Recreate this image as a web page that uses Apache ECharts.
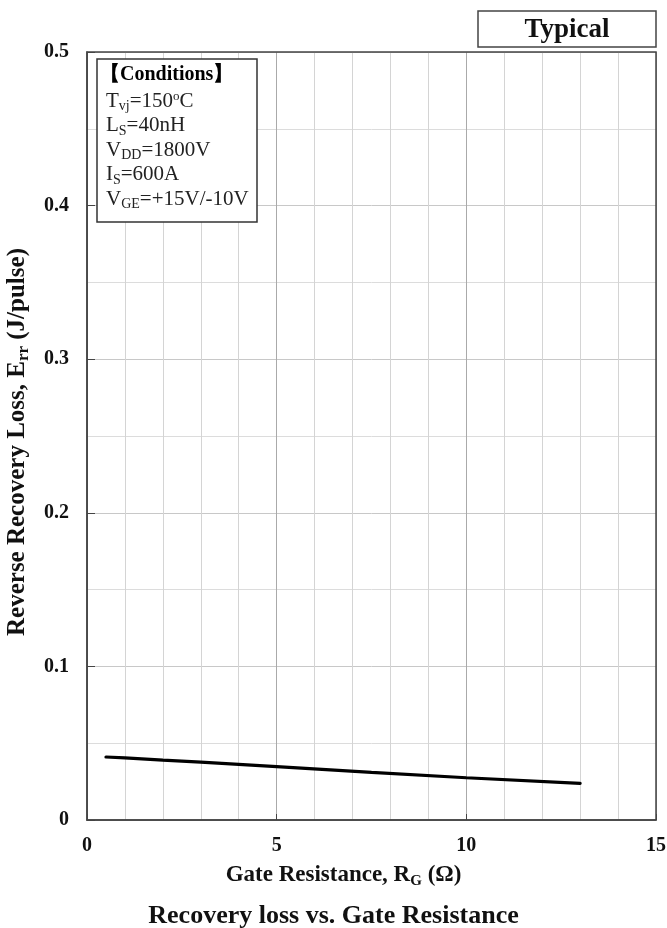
<!DOCTYPE html>
<html>
<head>
<meta charset="utf-8">
<script src="https://cdn.jsdelivr.net/npm/echarts@6/dist/echarts.min.js"></script>
<style>
  html, body { margin: 0; padding: 0; background: #fff; }
  #chart { width: 667px; height: 928px; }
</style>
</head>
<body>
<div id="chart"></div>
<script>
// Gate resistance (ohm) and reverse recovery loss (J/pulse)
const gateResistance = [0.5, 1, 2, 3, 5, 7.5, 10, 13];
const recoveryLoss   = [0.041, 0.0405, 0.039, 0.0377, 0.0347, 0.031, 0.0275, 0.0239];

const xTicks = [0, 5, 10, 15];
const yTicks = [0, 0.1, 0.2, 0.3, 0.4, 0.5];

const chartTitle = 'Recovery loss vs. Gate Resistance';
const badgeText = 'Typical';
const conditionHeading = '【Conditions】';
const conditionLines = [
  '{n|T}{s|vj}{n|=150}{u|o}{n|C}',
  '{n|L}{s|S}{n|=40nH}',
  '{n|V}{s|DD}{n|=1800V}',
  '{n|I}{s|S}{n|=600A}',
  '{n|V}{s|GE}{n|=+15V/-10V}'
];

const SERIF = '"Liberation Serif", "Times New Roman", serif';

const points = gateResistance.map((x, i) => [x, recoveryLoss[i]]);

const chart = echarts.init(document.getElementById('chart'), null, { renderer: 'canvas' });

const LH = 24.5;
const richCond = {
  n: { fontFamily: SERIF, fontSize: 21, color: '#222', lineHeight: LH },
  s: { fontFamily: SERIF, fontSize: 14, color: '#222', lineHeight: LH, verticalAlign: 'bottom' },
  u: { fontFamily: SERIF, fontSize: 13, color: '#222', lineHeight: LH, verticalAlign: 'top', padding: [1, 0, 0, 0] }
};

const nameRich = size => ({
  r: { fontFamily: SERIF, fontSize: size, fontWeight: 'bold', color: '#111', lineHeight: size + 4 },
  s: { fontFamily: SERIF, fontSize: Math.round(size * 0.66), fontWeight: 'bold', color: '#111', lineHeight: size + 4, verticalAlign: 'bottom' }
});

chart.setOption({
  animation: false,
  backgroundColor: '#fff',
  grid: { left: 87, right: 11, top: 52, bottom: 108, containLabel: false, outerBoundsMode: 'none' },
  title: {
    text: chartTitle,
    left: 'center',
    top: 898,
    textStyle: { fontFamily: SERIF, fontSize: 26, fontWeight: 'bold', color: '#111' }
  },
  xAxis: {
    type: 'value',
    min: 0, max: 15, interval: 5,
    name: '{r|Gate Resistance, R}{s|G}{r| (Ω)}',
    nameLocation: 'middle',
    nameGap: 42,
    nameTextStyle: {
      fontFamily: SERIF, fontSize: 23, fontWeight: 'bold', color: '#111',
      padding: [0, 56, 0, 0],
      rich: nameRich(23)
    },
    axisLine: { onZero: false, lineStyle: { color: '#444', width: 1.5 } },
    axisTick: { show: true, inside: true, length: 6, lineStyle: { color: '#444' } },
    minorTick: { show: false, splitNumber: 5 },
    axisLabel: {
      margin: 16,
      fontFamily: SERIF, fontSize: 20, fontWeight: 'bold', color: '#111',
      formatter: v => (xTicks.includes(v) ? String(v) : '')
    },
    splitLine: { show: true, lineStyle: { color: '#aaa', width: 1 } },
    minorSplitLine: { show: true, lineStyle: { color: '#d4d4d4', width: 1 } }
  },
  yAxis: {
    type: 'value',
    min: 0, max: 0.5, interval: 0.1,
    name: '{r|Reverse Recovery Loss, E}{s|rr}{r| (J/pulse)}',
    nameLocation: 'middle',
    nameGap: 55,
    nameTextStyle: {
      fontFamily: SERIF, fontSize: 25, fontWeight: 'bold', color: '#111',
      padding: [0, 12, 0, 0],
      rich: nameRich(25)
    },
    axisLine: { show: true, onZero: false, lineStyle: { color: '#444', width: 1.5 } },
    axisTick: { show: true, inside: true, length: 8, lineStyle: { color: '#444' } },
    minorTick: { show: false, splitNumber: 2 },
    axisLabel: {
      margin: 18,
      fontFamily: SERIF, fontSize: 20, fontWeight: 'bold', color: '#111',
      formatter: v => (yTicks.some(t => Math.abs(t - v) < 1e-9) ? (v === 0 ? '0' : v.toFixed(1)) : '')
    },
    splitLine: { show: true, lineStyle: { color: '#c8c8c8', width: 1 } },
    minorSplitLine: { show: true, lineStyle: { color: '#dcdcdc', width: 1 } }
  },
  series: [{
    type: 'line',
    data: points,
    showSymbol: false,
    smooth: false,
    lineStyle: { color: '#000', width: 3.2, cap: 'round' },
    z: 5
  }],
  graphic: [
    // plot frame
    {
      type: 'rect', z: 10, silent: true,
      shape: { x: 87, y: 52, width: 569, height: 768 },
      style: { fill: 'none', stroke: '#444', lineWidth: 1.5 }
    },
    // "Typical" badge
    {
      type: 'rect', z: 10,
      shape: { x: 478, y: 11, width: 178, height: 36 },
      style: { fill: '#fff', stroke: '#444', lineWidth: 1.5 }
    },
    {
      type: 'text', z: 11,
      x: 567, y: 30,
      style: {
        text: badgeText, align: 'center', verticalAlign: 'middle',
        fontFamily: SERIF, fontSize: 27, fontWeight: 'bold', fill: '#111'
      }
    },
    // conditions box
    {
      type: 'rect', z: 10,
      shape: { x: 97, y: 59, width: 160, height: 163 },
      style: { fill: '#fff', stroke: '#333', lineWidth: 1.5 }
    },
    {
      type: 'text', z: 11,
      x: 100, y: 75,
      style: {
        text: conditionHeading,
        align: 'left', verticalAlign: 'middle',
        fontFamily: SERIF, fontSize: 20, fontWeight: 'bold', fill: '#000'
      }
    },
    {
      type: 'text', z: 11,
      x: 106, y: 89,
      style: {
        text: conditionLines.join('\n'),
        rich: richCond,
        align: 'left', verticalAlign: 'top',
        fontFamily: SERIF, fontSize: 21, fill: '#222'
      }
    }
  ]
});
</script>
</body>
</html>
